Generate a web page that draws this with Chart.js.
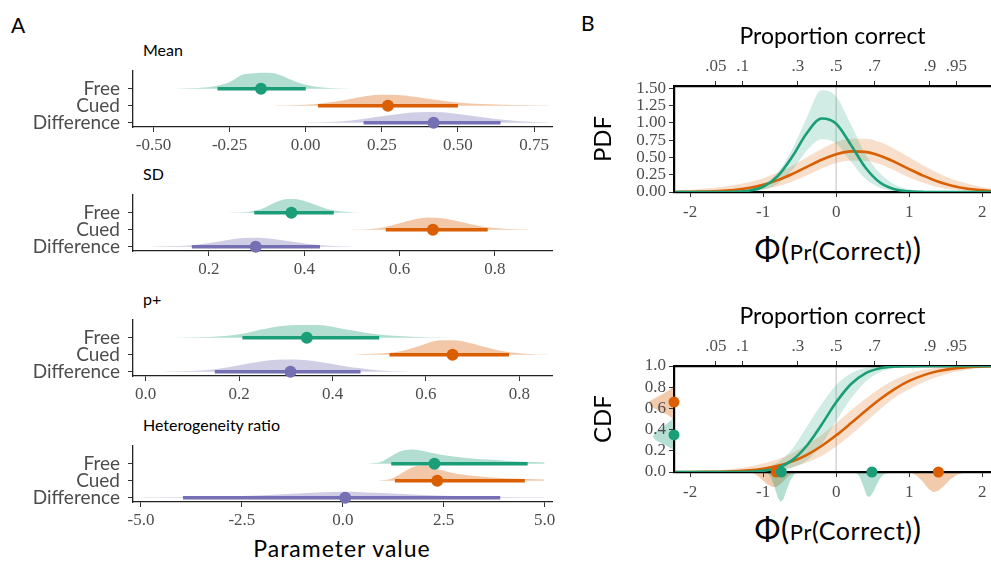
<!DOCTYPE html>
<html>
<head>
<meta charset="utf-8">
<script src="https://cdn.jsdelivr.net/npm/chart.js@4.4.1/dist/chart.umd.min.js"></script>
<style>
  body { margin: 0; width: 991px; height: 563px; background: #fff; position: relative; overflow: hidden; font-family: Lato, sans-serif; }
  canvas { position: absolute; }
  .lbl { position: absolute; white-space: nowrap; color: #000; line-height: 1; }
  .ttl { font-size: 16px; transform: translateY(-50%); }
  .phi { transform: translate(-50%, -50%); letter-spacing: 0.6px; }
  .phi .big { font-size: 31px; }
  .phi .sm { font-size: 22px; }
  .phi .md { font-size: 25px; }
</style>
</head>
<body>

<div class="lbl" style="left:11px;top:14px;font-size:21px">A</div>
<div class="lbl" style="left:581px;top:12px;font-size:21px">B</div>
<div class="lbl ttl" id="t0" style="left:143px">Mean</div>
<div class="lbl ttl" id="t1" style="left:143px">SD</div>
<div class="lbl ttl" id="t2" style="left:143px">p+</div>
<div class="lbl ttl" id="t3" style="left:143px">Heterogeneity ratio</div>
<div class="lbl" style="left:342px;top:548px;font-size:23px;letter-spacing:1px;transform:translate(-50%,-50%)">Parameter value</div>
<div class="lbl phi" style="left:838px;top:248px"><span class="big">Φ(</span><span class="sm">Pr</span><span class="md">(Correct)</span><span class="big">)</span></div>
<div class="lbl phi" style="left:838px;top:528px"><span class="big">Φ(</span><span class="sm">Pr</span><span class="md">(Correct)</span><span class="big">)</span></div>

<canvas id="a0" width="560" height="90"></canvas>
<canvas id="a1" width="560" height="90"></canvas>
<canvas id="a2" width="560" height="90"></canvas>
<canvas id="a3" width="560" height="90"></canvas>
<canvas id="pdf" width="411" height="210" style="left:580px;top:20px;z-index:2"></canvas>
<canvas id="margLeft" width="44" height="106" style="left:630px;top:366px;z-index:1"></canvas>
<canvas id="margBottom" width="317" height="40" style="left:674px;top:472px;z-index:1"></canvas>
<canvas id="cdf" width="411" height="210" style="left:580px;top:300px;z-index:2"></canvas>

<script>
// ---------- panel A data ----------
const rowLabels = [ 'Difference', 'Cued', 'Free' ]

// Mean
const meanFreeX = [ -0.44, -0.38, -0.33, -0.29, -0.25, -0.21, -0.17, -0.13, -0.09, -0.05, -0.01, 0.04, 0.09, 0.15 ]
const meanFreeH = [ 0.01, 0.03, 0.08, 0.18, 0.4, 0.82, 0.92, 0.94, 0.85, 0.55, 0.28, 0.1, 0.03, 0.01 ]
const meanCuedX = [ -0.10, 0.00, 0.05, 0.10, 0.15, 0.20, 0.25, 0.30, 0.35, 0.40, 0.45, 0.50, 0.58, 0.68, 0.80 ]
const meanCuedH = [ 0.01, 0.06, 0.13, 0.25, 0.42, 0.58, 0.65, 0.64, 0.55, 0.42, 0.3, 0.2, 0.1, 0.04, 0.01 ]
const meanDiffX = [ 0.0, 0.1, 0.15, 0.2, 0.25, 0.3, 0.35, 0.4, 0.45, 0.5, 0.55, 0.6, 0.65, 0.7, 0.8 ]
const meanDiffH = [ 0.01, 0.06, 0.13, 0.25, 0.38, 0.5, 0.6, 0.64, 0.62, 0.52, 0.4, 0.28, 0.17, 0.09, 0.02 ]
const meanPoint = [ -0.147, 0.27, 0.42 ]   // Free, Cued, Difference
const meanLow = [ -0.29, 0.04, 0.19 ]
const meanHigh = [ 0.0, 0.50, 0.64 ]
const meanTicks = [ -0.5, -0.25, 0, 0.25, 0.5, 0.75 ]

// SD
const sdFreeX = [ 0.24, 0.28, 0.30, 0.32, 0.34, 0.36, 0.38, 0.40, 0.42, 0.44, 0.46, 0.49, 0.52 ]
const sdFreeH = [ 0.01, 0.05, 0.15, 0.35, 0.62, 0.8, 0.82, 0.7, 0.5, 0.3, 0.15, 0.05, 0.01 ]
const sdCuedX = [ 0.50, 0.54, 0.57, 0.60, 0.63, 0.66, 0.69, 0.72, 0.75, 0.78, 0.82, 0.87 ]
const sdCuedH = [ 0.01, 0.05, 0.17, 0.38, 0.6, 0.72, 0.68, 0.52, 0.33, 0.17, 0.06, 0.01 ]
const sdDiffX = [ 0.08, 0.13, 0.17, 0.20, 0.23, 0.26, 0.29, 0.32, 0.35, 0.38, 0.41, 0.45, 0.50 ]
const sdDiffH = [ 0.01, 0.04, 0.1, 0.22, 0.36, 0.48, 0.53, 0.5, 0.4, 0.28, 0.16, 0.06, 0.01 ]
const sdPoint = [ 0.373, 0.67, 0.298 ]
const sdLow = [ 0.295, 0.571, 0.164 ]
const sdHigh = [ 0.462, 0.785, 0.433 ]
const sdTicks = [ 0.2, 0.4, 0.6, 0.8 ]

// p+
const ppFreeX = [ 0.05, 0.12, 0.17, 0.21, 0.25, 0.29, 0.33, 0.37, 0.41, 0.45, 0.49, 0.54, 0.60, 0.66 ]
const ppFreeH = [ 0.01, 0.04, 0.1, 0.25, 0.5, 0.7, 0.76, 0.75, 0.6, 0.4, 0.22, 0.1, 0.03, 0.01 ]
const ppCuedX = [ 0.45, 0.50, 0.54, 0.57, 0.60, 0.63, 0.66, 0.69, 0.72, 0.75, 0.78, 0.82, 0.86 ]
const ppCuedH = [ 0.01, 0.07, 0.18, 0.38, 0.65, 0.85, 0.86, 0.72, 0.5, 0.3, 0.15, 0.05, 0.01 ]
const ppDiffX = [ 0.04, 0.10, 0.14, 0.18, 0.22, 0.26, 0.30, 0.34, 0.38, 0.42, 0.46, 0.50, 0.56 ]
const ppDiffH = [ 0.01, 0.04, 0.12, 0.28, 0.48, 0.66, 0.72, 0.7, 0.55, 0.36, 0.2, 0.08, 0.01 ]
const ppPoint = [ 0.345, 0.657, 0.31 ]
const ppLow = [ 0.207, 0.522, 0.148 ]
const ppHigh = [ 0.50, 0.778, 0.46 ]
const ppTicks = [ 0, 0.2, 0.4, 0.6, 0.8 ]

// Heterogeneity ratio
const hetFreeX = [ 0.6, 0.9, 1.1, 1.3, 1.5, 1.7, 1.9, 2.1, 2.4, 2.8, 3.2, 3.6, 4.0, 4.5, 5.0 ]
const hetFreeH = [ 0.01, 0.08, 0.3, 0.6, 0.78, 0.84, 0.8, 0.7, 0.55, 0.42, 0.32, 0.25, 0.18, 0.12, 0.08 ]
const hetCuedX = [ 0.9, 1.2, 1.4, 1.6, 1.8, 2.0, 2.2, 2.4, 2.7, 3.0, 3.4, 3.8, 4.2, 4.6, 5.0 ]
const hetCuedH = [ 0.01, 0.12, 0.35, 0.65, 0.85, 0.9, 0.82, 0.65, 0.48, 0.35, 0.25, 0.18, 0.13, 0.1, 0.07 ]
const hetDiffX = [ -5.0, -4.0, -3.0, -2.0, -1.5, -1.0, -0.5, 0.0, 0.5, 1.0, 1.5, 2.0, 3.0, 4.0, 5.0 ]
const hetDiffH = [ 0.02, 0.04, 0.08, 0.15, 0.2, 0.26, 0.32, 0.35, 0.33, 0.28, 0.22, 0.16, 0.09, 0.05, 0.03 ]
const hetPoint = [ 2.27, 2.34, 0.06 ]
const hetLow = [ 1.2, 1.29, -3.96 ]
const hetHigh = [ 4.58, 4.51, 3.9 ]
const hetTicks = [ -5, -2.5, 0, 2.5, 5 ]

// ---------- panel B data ----------
const xGrid = [ -2.2, -2.0, -1.8, -1.6, -1.4, -1.2, -1.0, -0.8, -0.6, -0.4, -0.2, 0, 0.2, 0.4, 0.6, 0.8, 1.0, 1.2, 1.4, 1.6, 1.8, 2.0, 2.2 ]
const pdfGreen = [ 0, 0, 0, 0, 0.004, 0.019, 0.076, 0.229, 0.511, 0.852, 1.060, 0.986, 0.684, 0.354, 0.137, 0.040, 0.009, 0.001, 0, 0, 0, 0, 0 ]
const pdfGreenHi = [ 0, 0, 0, 0, 0.01, 0.03, 0.1, 0.28, 0.62, 1.08, 1.47, 1.38, 0.98, 0.55, 0.27, 0.11, 0.04, 0.01, 0, 0, 0, 0, 0 ]
const pdfGreenLo = [ 0, 0, 0, 0, 0, 0, 0.03, 0.12, 0.32, 0.6, 0.76, 0.7, 0.44, 0.19, 0.06, 0.01, 0, 0, 0, 0, 0, 0, 0 ]
const pdfOrange = [ 0.001, 0.002, 0.006, 0.013, 0.029, 0.057, 0.103, 0.171, 0.260, 0.363, 0.465, 0.545, 0.587, 0.579, 0.524, 0.435, 0.331, 0.232, 0.148, 0.087, 0.047, 0.023, 0.010 ]
const pdfOrangeHi = [ 0.02, 0.03, 0.05, 0.07, 0.1, 0.14, 0.2, 0.28, 0.38, 0.5, 0.62, 0.72, 0.77, 0.77, 0.72, 0.62, 0.5, 0.38, 0.27, 0.18, 0.12, 0.07, 0.04 ]
const pdfOrangeLo = [ 0, 0, 0, 0.002, 0.006, 0.015, 0.04, 0.08, 0.15, 0.24, 0.34, 0.42, 0.45, 0.45, 0.40, 0.31, 0.21, 0.13, 0.07, 0.035, 0.015, 0.005, 0 ]
const cdfGreen = [ 0, 0, 0, 0, 0, 0.002, 0.011, 0.039, 0.112, 0.250, 0.446, 0.657, 0.828, 0.931, 0.979, 0.995, 0.999, 1, 1, 1, 1, 1, 1 ]
const cdfGreenHi = [ 0, 0, 0, 0, 0.003, 0.01, 0.035, 0.09, 0.22, 0.43, 0.64, 0.82, 0.93, 0.98, 0.995, 1, 1, 1, 1, 1, 1, 1, 1 ]
const cdfGreenLo = [ 0, 0, 0, 0, 0, 0, 0.001, 0.012, 0.04, 0.11, 0.26, 0.48, 0.69, 0.85, 0.94, 0.98, 0.995, 0.999, 1, 1, 1, 1, 1 ]
const cdfOrange = [ 0.0001, 0.0004, 0.0012, 0.003, 0.007, 0.015, 0.031, 0.058, 0.100, 0.162, 0.245, 0.346, 0.459, 0.576, 0.686, 0.782, 0.859, 0.914, 0.952, 0.975, 0.988, 0.995, 0.998 ]
const cdfOrangeHi = [ 0.003, 0.006, 0.01, 0.018, 0.03, 0.05, 0.08, 0.12, 0.18, 0.26, 0.35, 0.46, 0.58, 0.69, 0.79, 0.87, 0.93, 0.965, 0.985, 0.994, 0.998, 1, 1 ]
const cdfOrangeLo = [ 0, 0, 0, 0, 0.001, 0.003, 0.009, 0.02, 0.045, 0.09, 0.15, 0.24, 0.35, 0.47, 0.59, 0.70, 0.78, 0.85, 0.9, 0.94, 0.965, 0.98, 0.99 ]

const phiTicks = [ -2, -1, 0, 1, 2 ]
const propTickPos = [ -1.645, -1.282, -0.524, 0, 0.524, 1.282, 1.645 ]
const propTickLabels = [ '.05', '.1', '.3', '.5', '.7', '.9', '.95' ]
const pdfTicks = [ 0, 0.25, 0.5, 0.75, 1, 1.25, 1.5 ]
const cdfTicks = [ 0, 0.2, 0.4, 0.6, 0.8, 1 ]

// marginal distributions on the CDF panel
const leftOrangeY = [ 0.50, 0.54, 0.58, 0.62, 0.66, 0.70, 0.74, 0.78, 0.82 ]
const leftOrangeW = [ 0.02, 0.25, 0.6, 0.9, 1.0, 0.7, 0.4, 0.14, 0.02 ]
const leftGreenY = [ 0.21, 0.25, 0.29, 0.33, 0.37, 0.41, 0.45, 0.49, 0.52 ]
const leftGreenW = [ 0.02, 0.3, 0.65, 0.82, 0.75, 0.5, 0.3, 0.1, 0.02 ]
const botOrange1X = [ -1.15, -1.08, -1.0, -0.93, -0.87, -0.82, -0.76, -0.70, -0.64, -0.58 ]
const botOrange1D = [ 0.02, 0.12, 0.28, 0.42, 0.5, 0.5, 0.4, 0.25, 0.1, 0.02 ]
const botGreen1X = [ -0.95, -0.9, -0.85, -0.8, -0.76, -0.72, -0.68, -0.63, -0.58, -0.53 ]
const botGreen1D = [ 0.02, 0.15, 0.45, 0.85, 1.0, 0.9, 0.6, 0.3, 0.1, 0.02 ]
const botGreen2X = [ 0.27, 0.32, 0.37, 0.42, 0.46, 0.5, 0.55, 0.6, 0.65, 0.71 ]
const botGreen2D = [ 0.02, 0.15, 0.45, 0.8, 0.83, 0.7, 0.45, 0.22, 0.08, 0.02 ]
const botOrange2X = [ 1.02, 1.1, 1.18, 1.26, 1.33, 1.4, 1.48, 1.56, 1.65, 1.75 ]
const botOrange2D = [ 0.02, 0.12, 0.3, 0.55, 0.67, 0.62, 0.45, 0.25, 0.1, 0.02 ]
const leftDotY = [ 0.66, 0.35 ]            // orange, green
const bottomDotX = [ -0.82, -0.75, 0.49, 1.40 ]
const bottomDotColor = [ 'orange', 'green', 'green', 'orange' ]

// ---------- styling ----------
const green = '#1b9e77'
const orange = '#d95f02'
const purple = '#7570b3'
const fade = ( hex, a ) => {
  const n = parseInt( hex.slice( 1 ), 16 )
  return `rgba(${n >> 16},${( n >> 8 ) & 255},${n & 255},${a})`
}
const serif = { family: 'Liberation Serif', size: 17 }
const tickGrey = '#4d4d4d'

Chart.defaults.animation = false
Chart.defaults.responsive = false
Chart.defaults.devicePixelRatio = 1
Chart.defaults.font.family = 'Lato'
Chart.defaults.color = tickGrey
Chart.defaults.plugins.legend.display = false
Chart.defaults.plugins.tooltip.enabled = false
Chart.defaults.layout.autoPadding = false

const pts = ( xs, ys ) => xs.map( ( x, i ) => ( { x, y: ys[i] } ) )

// fix an axis size and drop the label overhang padding so the plot box lands where we want
const fixHeight = ( h ) => ( s ) => { s.height = h; s.paddingLeft = 0; s.paddingRight = 0; s.paddingTop = 0; s.paddingBottom = 0 }
const fixWidth = ( w ) => ( s ) => { s.width = w; s.paddingLeft = 0; s.paddingRight = 0; s.paddingTop = 0; s.paddingBottom = 0 }

// ---------- panel A ----------
const axisBottoms = [ 127, 251, 376, 502 ]

const makeParamPanel = ( idx, slabs, point, low, high, ticks, decimals ) => {
  const B = axisBottoms[idx]
  const cv = document.getElementById( 'a' + idx )
  cv.style.left = '0px'
  cv.style.top = ( B - 60 ) + 'px'
  document.getElementById( 't' + idx ).style.top = ( B - 77 ) + 'px'

  const rows = [ 3, 2, 1 ]
  const colors = [ green, orange, purple ]
  const datasets = []
  slabs.forEach( ( [xs, hs], i ) => {
    datasets.push( {
      data: xs.map( ( x, j ) => ( { x, y: rows[i] + hs[j] } ) ),
      fill: { value: rows[i] },
      backgroundColor: fade( colors[i], 0.34 ),
      borderWidth: 0,
      pointRadius: 0,
      cubicInterpolationMode: 'monotone',
      order: 3
    } )
    datasets.push( {
      data: [ { x: low[i], y: rows[i] }, { x: high[i], y: rows[i] } ],
      borderColor: colors[i],
      borderWidth: 3.5,
      pointRadius: 0,
      order: 2
    } )
    datasets.push( {
      data: [ { x: point[i], y: rows[i] } ],
      showLine: false,
      pointRadius: 6,
      pointBackgroundColor: colors[i],
      pointBorderWidth: 0,
      clip: false,
      order: 1
    } )
  } )

  const mins = [ -0.5675, 0.0405, -0.0272, -5.198 ]
  const maxs = [ 0.809, 0.92, 0.870, 5.183 ]

  new Chart( cv, {
    type: 'line',
    data: { datasets },
    options: {
      layout: { padding: { top: 4, right: 8 } },
      scales: {
        x: {
          type: 'linear',
          min: mins[idx],
          max: maxs[idx],
          afterBuildTicks: ( s ) => { s.ticks = ticks.map( ( v ) => ( { value: v } ) ) },
          afterFit: fixHeight( 30 ),
          ticks: { callback: ( v ) => v.toFixed( decimals ), font: serif, color: tickGrey, padding: 3, maxRotation: 0, autoSkip: false },
          grid: { drawOnChartArea: false, tickLength: 5, color: '#333' },
          border: { color: '#222', width: 1.3 }
        },
        y: {
          type: 'linear',
          min: 0.75,
          max: 4.05,
          afterBuildTicks: ( s ) => { s.ticks = [ 1, 2, 3 ].map( ( v ) => ( { value: v } ) ) },
          afterFit: fixWidth( 133 ),
          ticks: { callback: ( v ) => rowLabels[v - 1], font: { family: 'Lato', size: 19 }, color: tickGrey, padding: 8, autoSkip: false },
          grid: { drawOnChartArea: false, tickLength: 5, color: '#333' },
          border: { color: '#222', width: 1.3 }
        }
      }
    }
  } )
}

makeParamPanel( 0, [ [meanFreeX, meanFreeH], [meanCuedX, meanCuedH], [meanDiffX, meanDiffH] ], meanPoint, meanLow, meanHigh, meanTicks, 2 )
makeParamPanel( 1, [ [sdFreeX, sdFreeH], [sdCuedX, sdCuedH], [sdDiffX, sdDiffH] ], sdPoint, sdLow, sdHigh, sdTicks, 1 )
makeParamPanel( 2, [ [ppFreeX, ppFreeH], [ppCuedX, ppCuedH], [ppDiffX, ppDiffH] ], ppPoint, ppLow, ppHigh, ppTicks, 1 )
makeParamPanel( 3, [ [hetFreeX, hetFreeH], [hetCuedX, hetCuedH], [hetDiffX, hetDiffH] ], hetPoint, hetLow, hetHigh, hetTicks, 1 )

// ---------- panel B ----------
const xMin = -2.22
const xMax = 2.12

const curveScales = ( yMax, yTicks, yDecimals, yTitle ) => ( {
  x: {
    type: 'linear',
    min: xMin,
    max: xMax,
    afterBuildTicks: ( s ) => { s.ticks = phiTicks.map( ( v ) => ( { value: v } ) ) },
    afterFit: fixHeight( 38 ),
    ticks: { font: serif, color: tickGrey, padding: 5, maxRotation: 0, autoSkip: false },
    grid: { drawOnChartArea: false, tickLength: 5, color: '#333' },
    border: { color: '#000', width: 2.2 }
  },
  xTop: {
    type: 'linear',
    position: 'top',
    min: xMin,
    max: xMax,
    afterBuildTicks: ( s ) => { s.ticks = propTickPos.map( ( v ) => ( { value: v } ) ) },
    afterFit: fixHeight( 66 ),
    ticks: { callback: ( v, i ) => propTickLabels[i], font: serif, color: tickGrey, padding: 4, maxRotation: 0, autoSkip: false },
    grid: { drawOnChartArea: false, tickLength: 5, color: '#333' },
    border: { color: '#000', width: 2.2 },
    title: { display: true, text: 'Proportion correct', color: '#000', font: { family: 'Lato', size: 23 }, padding: { top: 3, bottom: 0 } }
  },
  y: {
    type: 'linear',
    min: 0,
    max: yMax,
    afterBuildTicks: ( s ) => { s.ticks = yTicks.map( ( v ) => ( { value: v } ) ) },
    afterFit: fixWidth( 94 ),
    ticks: { callback: ( v ) => v.toFixed( yDecimals ), font: serif, color: tickGrey, padding: 3, autoSkip: false },
    grid: { drawOnChartArea: false, tickLength: 5, color: '#333' },
    border: { color: '#000', width: 2.2 },
    title: { display: true, text: yTitle, color: '#000', font: { family: 'Lato', size: 24 }, padding: { top: 9, bottom: 0 } }
  }
} )

const curveSets = ( gMean, gHi, gLo, oMean, oHi, oLo, yMax ) => [
  { data: [ { x: 0, y: 0 }, { x: 0, y: yMax } ], borderColor: 'rgba(0,0,0,0.2)', borderWidth: 1.3, pointRadius: 0, order: 4 },
  { data: pts( xGrid, gHi ), fill: '+1', backgroundColor: fade( green, 0.2 ), borderWidth: 0, pointRadius: 0, cubicInterpolationMode: 'monotone', order: 3 },
  { data: pts( xGrid, gLo ), fill: false, borderWidth: 0, pointRadius: 0, cubicInterpolationMode: 'monotone', order: 3 },
  { data: pts( xGrid, oHi ), fill: '+1', backgroundColor: fade( orange, 0.2 ), borderWidth: 0, pointRadius: 0, cubicInterpolationMode: 'monotone', order: 3 },
  { data: pts( xGrid, oLo ), fill: false, borderWidth: 0, pointRadius: 0, cubicInterpolationMode: 'monotone', order: 3 },
  { data: pts( xGrid, gMean ), borderColor: green, borderWidth: 2.6, pointRadius: 0, cubicInterpolationMode: 'monotone', order: 1 },
  { data: pts( xGrid, oMean ), borderColor: orange, borderWidth: 2.6, pointRadius: 0, cubicInterpolationMode: 'monotone', order: 1 }
]

new Chart( document.getElementById( 'pdf' ), {
  type: 'line',
  data: { datasets: curveSets( pdfGreen, pdfGreenHi, pdfGreenLo, pdfOrange, pdfOrangeHi, pdfOrangeLo, 1.53 ) },
  options: { scales: curveScales( 1.53, pdfTicks, 2, 'PDF' ) }
} )

const cdfSets = curveSets( cdfGreen, cdfGreenHi, cdfGreenLo, cdfOrange, cdfOrangeHi, cdfOrangeLo, 1 )
cdfSets.push( {
  data: leftDotY.map( ( y ) => ( { x: xMin, y } ) ),
  showLine: false,
  pointRadius: 5.5,
  pointBackgroundColor: [ orange, green ],
  pointBorderWidth: 0,
  clip: false,
  order: 0
} )
cdfSets.push( {
  data: bottomDotX.map( ( x ) => ( { x, y: 0 } ) ),
  showLine: false,
  pointRadius: 5.5,
  pointBackgroundColor: bottomDotColor.map( ( c ) => ( c === 'green' ? green : orange ) ),
  pointBorderWidth: 0,
  clip: false,
  order: 0
} )

new Chart( document.getElementById( 'cdf' ), {
  type: 'line',
  data: { datasets: cdfSets },
  options: { scales: curveScales( 1, cdfTicks, 1, 'CDF' ) }
} )

// marginal slabs drawn outside the CDF box
const shapeLeft = ( ys, ws ) => [ { x: 0, y: ys[0] }, ...ys.map( ( y, i ) => ( { x: ws[i], y } ) ), { x: 0, y: ys[ys.length - 1] } ]

new Chart( document.getElementById( 'margLeft' ), {
  type: 'line',
  data: {
    datasets: [
      { data: shapeLeft( leftOrangeY, leftOrangeW ), fill: 'shape', backgroundColor: fade( orange, 0.33 ), borderWidth: 0, pointRadius: 0 },
      { data: shapeLeft( leftGreenY, leftGreenW ), fill: 'shape', backgroundColor: fade( green, 0.33 ), borderWidth: 0, pointRadius: 0 }
    ]
  },
  options: {
    scales: {
      x: { type: 'linear', display: false, reverse: true, min: 0, max: 1.7 },
      y: { type: 'linear', display: false, min: 0, max: 1 }
    }
  }
} )

new Chart( document.getElementById( 'margBottom' ), {
  type: 'line',
  data: {
    datasets: [
      { data: pts( botOrange1X, botOrange1D ), fill: 'origin', backgroundColor: fade( orange, 0.33 ), borderWidth: 0, pointRadius: 0, order: 2 },
      { data: pts( botGreen1X, botGreen1D ), fill: 'origin', backgroundColor: fade( green, 0.33 ), borderWidth: 0, pointRadius: 0, order: 1 },
      { data: pts( botGreen2X, botGreen2D ), fill: 'origin', backgroundColor: fade( green, 0.33 ), borderWidth: 0, pointRadius: 0, order: 1 },
      { data: pts( botOrange2X, botOrange2D ), fill: 'origin', backgroundColor: fade( orange, 0.33 ), borderWidth: 0, pointRadius: 0, order: 1 }
    ]
  },
  options: {
    scales: {
      x: { type: 'linear', display: false, min: xMin, max: xMax },
      y: { type: 'linear', display: false, reverse: true, min: 0, max: 1.33 }
    }
  }
} )
</script>
</body>
</html>
